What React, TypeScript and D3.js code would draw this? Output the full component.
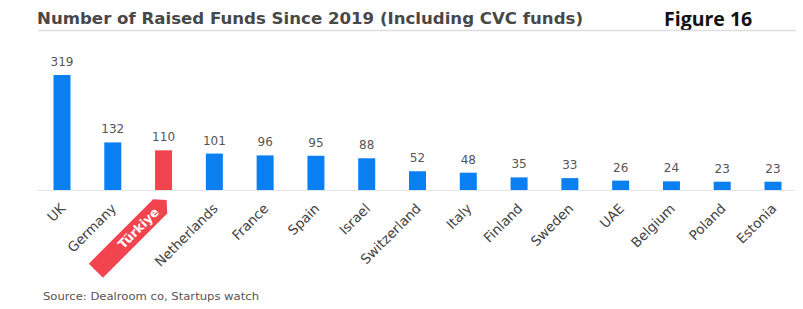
import * as d3 from 'd3';

const categories = ['UK', 'Germany', 'Türkiye', 'Netherlands', 'France', 'Spain', 'Israel', 'Switzerland', 'Italy', 'Finland', 'Sweden', 'UAE', 'Belgium', 'Poland', 'Estonia'];
const values = [319, 132, 110, 101, 96, 95, 88, 52, 48, 35, 33, 26, 24, 23, 23];
const highlight = 'Türkiye';

const W = 803;
const H = 309;
const baseY = 190;

export default function App() {
  const x = d3.scalePoint<string>().domain(categories).range([62, 773]);
  const y = d3.scaleLinear().domain([0, 319]).range([baseY, 75]);
  const barW = 17;
  const font = 'DejaVu Sans, Verdana, sans-serif';

  return (
    <svg width={W} height={H} style={{ position: 'absolute', left: 0, top: 0, background: '#fff' }}>
      <text x={37} y={24} fontFamily={font} fontWeight="bold" fontSize={15} fill="#484848" textLength={546} lengthAdjust="spacingAndGlyphs">
        Number of Raised Funds Since 2019 (Including CVC funds)
      </text>
      <text x={664} y={26} fontFamily="Open Sans, sans-serif" fontWeight="bold" fontSize={19.5} fill="#111">
        Figure 16
      </text>
      <line x1={38} x2={796} y1={30.5} y2={30.5} stroke="#ddd" strokeWidth={1.5} />
      <line x1={37} x2={795} y1={baseY + 0.5} y2={baseY + 0.5} stroke="#e6e6e6" strokeWidth={1} />

      {categories.map((c, i) => {
        const cx = x(c)!;
        const v = values[i];
        const isH = c === highlight;
        return (
          <g key={c}>
            <rect x={cx - barW / 2} y={y(v)} width={barW} height={baseY - y(v)} fill={isH ? '#f2444f' : '#0a7ff2'} />
            <text x={cx} y={y(v) - 9} textAnchor="middle" fontFamily={font} fontSize={12} fill="#555">
              {v}
            </text>
            {isH ? (
              <g transform={`translate(${cx + 3},${baseY + 10}) rotate(-45)`}>
                <polygon points="-100,-10 -9,-10 0,0 -9,10 -100,10" fill="#f2444f" />
                <text x={-14} y={0} dy="0.35em" textAnchor="end" fontFamily={font} fontWeight="bold" fontSize={12.5} fill="#fff">
                  {c}
                </text>
              </g>
            ) : (
              <text
                transform={`translate(${cx + 1},${baseY + 16}) rotate(-45)`}
                textAnchor="end"
                dy="0.35em"
                fontFamily={font}
                fontSize={13.5}
                fill="#444"
              >
                {c}
              </text>
            )}
          </g>
        );
      })}

      <text x={43} y={300} fontFamily={font} fontSize={10} fill="#555" textLength={216} lengthAdjust="spacingAndGlyphs">
        Source: Dealroom co, Startups watch
      </text>
    </svg>
  );
}
